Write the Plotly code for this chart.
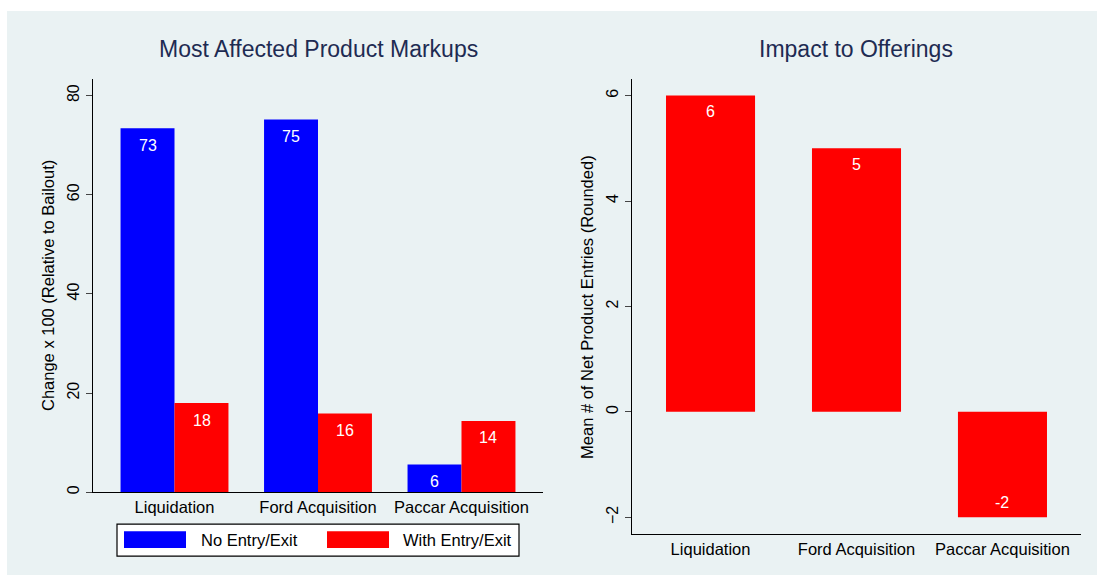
import plotly.graph_objects as go

# data
categories = ["Liquidation", "Ford Acquisition", "Paccar Acquisition"]
series_names = ["No Entry/Exit", "With Entry/Exit"]
markup_no_entry = [73.4, 75.2, 5.6]
markup_with_entry = [18.0, 15.9, 14.4]
net_entries = [6, 5, -2]

W, H = 1097, 577
DY = 2  # small vertical nudge measured against the reference
BLUE = "#0000ff"
RED = "#ff0000"
BG = "#eaf2f3"
NAVY = "#1e2b52"
FONT = "Liberation Sans, Arial, sans-serif"


def px_x(p):
    return p / W


def px_y(p):
    return (H - p - DY) / H


fig = go.Figure()

# left panel: grouped bars (explicit width/offset so each panel keeps its own gap)
bw_left = 0.376
fig.add_trace(go.Bar(x=categories, y=markup_no_entry, name=series_names[0],
                     marker=dict(color=BLUE, line=dict(width=0)),
                     width=bw_left, offset=-bw_left, xaxis="x", yaxis="y",
                     showlegend=False))
fig.add_trace(go.Bar(x=categories, y=markup_with_entry, name=series_names[1],
                     marker=dict(color=RED, line=dict(width=0)),
                     width=bw_left, offset=0, xaxis="x", yaxis="y",
                     showlegend=False))

# right panel
bw_right = 0.61
fig.add_trace(go.Bar(x=categories, y=net_entries, name="Net entries",
                     marker=dict(color=RED, line=dict(width=0)),
                     width=bw_right, xaxis="x2", yaxis="y2",
                     showlegend=False))

annotations = []
half_bar_px = 27
for vals, shift in [(markup_no_entry, -half_bar_px), (markup_with_entry, half_bar_px)]:
    for c, v in zip(categories, vals):
        annotations.append(dict(x=c, y=v, xref="x", yref="y", text=str(round(v)),
                                showarrow=False, xshift=shift, yshift=-17,
                                font=dict(color="white", size=16, family=FONT)))
for c, v in zip(categories, net_entries):
    annotations.append(dict(x=c, y=v, xref="x2", yref="y2", text=str(round(v)),
                            showarrow=False, yshift=-16 if v >= 0 else 15,
                            font=dict(color="white", size=16, family=FONT)))


def paper_text(x, y, text, size, color="black", angle=0, xanchor="center"):
    annotations.append(dict(x=px_x(x), y=px_y(y), xref="paper", yref="paper",
                            text=text, showarrow=False, textangle=angle,
                            xanchor=xanchor, yanchor="middle",
                            font=dict(size=size, color=color, family=FONT)))


# panel titles
paper_text(318, 47, "Most Affected Product Markups", 23, NAVY)
paper_text(856, 47, "Impact to Offerings", 23, NAVY)
# y axis titles
paper_text(48, 285, "Change x 100 (Relative to Bailout)", 16.5, angle=-90)
paper_text(587, 306, "Mean # of Net Product Entries (Rounded)", 16.5, angle=-90)

# legend drawn by hand to get Stata-like wide swatches
shapes = [
    dict(type="rect", xref="paper", yref="paper", x0=px_x(7), x1=1, y0=0, y1=px_y(11 - DY),
         fillcolor=BG, line=dict(width=0), layer="below"),
    dict(type="rect", xref="paper", yref="paper", x0=px_x(117), x1=px_x(519),
         y0=px_y(556), y1=px_y(524), fillcolor="white",
         line=dict(color="black", width=1.2)),
]
for color, name, sx, tx in [(BLUE, series_names[0], 124, 199), (RED, series_names[1], 327, 401)]:
    shapes.append(dict(type="rect", xref="paper", yref="paper", x0=px_x(sx), x1=px_x(sx + 62),
                       y0=px_y(548), y1=px_y(531), fillcolor=color, line=dict(width=0)))
    paper_text(tx, 540, name, 16.5, xanchor="left")

yaxis_common = dict(showgrid=True, gridcolor=BG, gridwidth=1.5, zeroline=False,
                    showline=True, linecolor="black", linewidth=1.3,
                    ticks="outside", ticklen=6, tickcolor="#444", tickangle=-90,
                    tickfont=dict(size=16, color="black", family=FONT))
xaxis_common = dict(showgrid=False, zeroline=False, showline=True, linecolor="black",
                    linewidth=1.3, ticks="", tickfont=dict(size=16.5, color="black", family=FONT))

fig.update_layout(
    width=W, height=H,
    margin=dict(l=0, r=0, t=0, b=0),
    paper_bgcolor="white", plot_bgcolor="white",
    barmode="overlay",
    font=dict(family=FONT),
    xaxis=dict(domain=[px_x(93), px_x(543)], range=[-0.568, 2.568], anchor="y", **xaxis_common),
    yaxis=dict(domain=[px_y(492), px_y(77)], range=[0, 83.4], tickvals=[0, 20, 40, 60, 80],
               anchor="x", **yaxis_common),
    xaxis2=dict(domain=[px_x(632), px_x(1081)], range=[-0.538, 2.538], anchor="y2", **xaxis_common),
    yaxis2=dict(domain=[px_y(534), px_y(77)], range=[-2.32, 6.32], tickvals=[-2, 0, 2, 4, 6],
                anchor="x2", **yaxis_common),
    shapes=shapes,
    annotations=annotations,
)

# drop the default page margin / scrollbars so the figure sits at the window origin
page_js = ("document.body.style.margin='0px';"
           "document.body.style.overflow='hidden';"
           "document.documentElement.style.overflow='hidden';")
fig.write_html("out.html", config={"displayModeBar": False}, post_script=page_js)
